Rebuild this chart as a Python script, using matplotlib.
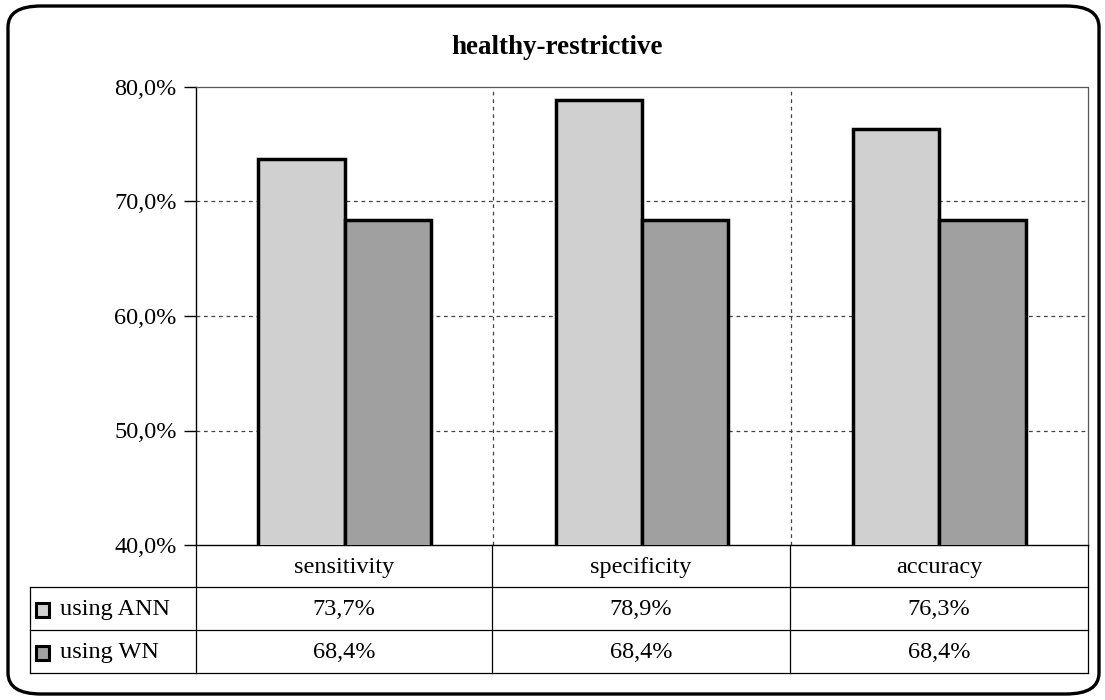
import matplotlib
matplotlib.use("Agg")
import matplotlib.pyplot as plt
from matplotlib.patches import FancyBboxPatch, Rectangle
from matplotlib.lines import Line2D
import numpy as np

plt.rcParams['font.family'] = ['Liberation Serif', 'DejaVu Serif']

title = "healthy-restrictive"
categories = ["sensitivity", "specificity", "accuracy"]
series_names = ["using ANN", "using WN"]
ann_values = [73.7, 78.9, 76.3]
wn_values = [68.4, 68.4, 68.4]
y_ticks = [40, 50, 60, 70, 80]
colors = ["#d0d0d0", "#a0a0a0"]

W, H = 1105, 700
FS = 17.5
fig = plt.figure(figsize=(W / 100, H / 100), dpi=100)

def fx(px):
    return px / W

def fy(py):
    return 1 - py / H

# outer rounded frame
frame = FancyBboxPatch((fx(8), fy(694)), fx(1091), fy(6) - fy(694),
                       boxstyle="round,pad=0,rounding_size=0.03",
                       transform=fig.transFigure, fill=False,
                       edgecolor="black", linewidth=2.4)
fig.patches.append(frame)

# plot area
left, right, top, bottom = 196, 1088, 87, 545
ax = fig.add_axes([fx(left), fy(bottom), fx(right) - fx(left), fy(top) - fy(bottom)])
ax.set_xlim(0.5, 3.5)
ax.set_ylim(40, 80)

x = np.arange(1, len(categories) + 1)
bw = 0.29
ax.bar(x - bw / 2, ann_values, bw, bottom=0, color=colors[0], edgecolor="black",
       linewidth=2.5, zorder=3)
ax.bar(x + bw / 2, wn_values, bw, bottom=0, color=colors[1], edgecolor="black",
       linewidth=2.5, zorder=3)

for yv in y_ticks[1:-1]:
    ax.axhline(yv, color="#444444", linestyle=(0, (3, 3)), linewidth=0.9, zorder=1)
for xv in x[:-1] + 0.5:
    ax.axvline(xv, color="#444444", linestyle=(0, (3, 3)), linewidth=0.9, zorder=1)

for s in ["top", "right"]:
    ax.spines[s].set_linestyle((0, (1, 1)))
    ax.spines[s].set_color("#555555")
    ax.spines[s].set_linewidth(0.9)
ax.spines["left"].set_linewidth(1.0)
ax.spines["bottom"].set_linewidth(1.0)

ax.set_yticks(y_ticks)
ax.set_yticklabels([f"{v:.1f}%".replace(".", ",") for v in y_ticks], fontsize=FS)
ax.tick_params(axis="y", direction="out", length=9, width=1, pad=5)
ax.set_xticks([])

fig.text(fx(557), fy(48), title, ha="center", va="center", fontsize=19.5,
         fontweight="bold")

# data table beneath the axis
row_y = [545, 587, 630, 673]
col_x = [196, 492, 790, 1088]
label_left = 30

def hline(y, x0, x1):
    fig.add_artist(Line2D([fx(x0), fx(x1)], [fy(y), fy(y)], transform=fig.transFigure,
                          color="black", linewidth=0.9))

def vline(xp, y0, y1):
    fig.add_artist(Line2D([fx(xp), fx(xp)], [fy(y0), fy(y1)], transform=fig.transFigure,
                          color="black", linewidth=0.9))

for yy in row_y[1:]:
    hline(yy, label_left, col_x[-1])
for xx in col_x:
    vline(xx, row_y[0], row_y[-1])
vline(label_left, row_y[1], row_y[-1])

for i, cat in enumerate(categories):
    cx = (col_x[i] + col_x[i + 1]) / 2
    fig.text(fx(cx), fy((row_y[0] + row_y[1]) / 2 + 2), cat, ha="center", va="center",
             fontsize=FS)

for r, (name, vals) in enumerate(zip(series_names, [ann_values, wn_values])):
    cy = (row_y[r + 1] + row_y[r + 2]) / 2 + 1
    key = Rectangle((fx(36), fy(cy + 7)), fx(13), fy(cy - 7) - fy(cy + 7),
                    transform=fig.transFigure, facecolor=colors[r], edgecolor="black",
                    linewidth=2.2)
    fig.patches.append(key)
    fig.text(fx(60), fy(cy), name, ha="left", va="center", fontsize=FS)
    for i, v in enumerate(vals):
        cx = (col_x[i] + col_x[i + 1]) / 2
        fig.text(fx(cx), fy(cy), f"{v:.1f}%".replace(".", ","), ha="center",
                 va="center", fontsize=FS)

fig.savefig("out.png", dpi=100)
